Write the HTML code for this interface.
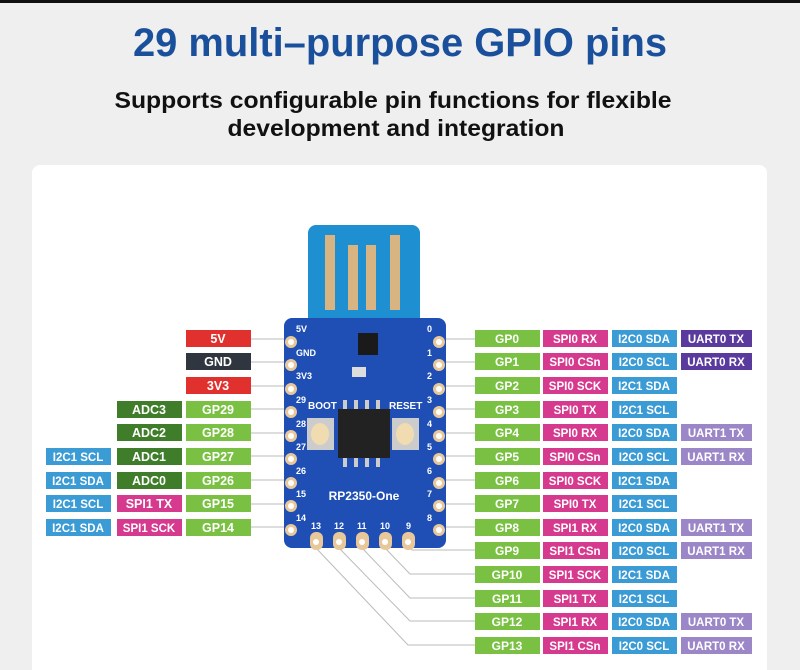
<!DOCTYPE html>
<html><head><meta charset="utf-8"><style>
html,body{margin:0;padding:0;width:800px;height:670px;overflow:hidden;background:#efefef;}
</style></head><body>
<svg width="800" height="670" viewBox="0 0 800 670" xmlns="http://www.w3.org/2000/svg" font-family="Liberation Sans, sans-serif">
<rect x="0" y="0" width="800" height="3" fill="#111"/>
<text x="400" y="56" text-anchor="middle" font-size="40" font-weight="bold" fill="#1a4f9c" textLength="534" lengthAdjust="spacingAndGlyphs">29 multi–purpose GPIO pins</text>
<text x="393" y="108" text-anchor="middle" font-size="23" font-weight="bold" fill="#111" textLength="557" lengthAdjust="spacingAndGlyphs">Supports configurable pin functions for flexible</text>
<text x="396" y="136" text-anchor="middle" font-size="23" font-weight="bold" fill="#111" textLength="337" lengthAdjust="spacingAndGlyphs">development and integration</text>
<rect x="32" y="165" width="735" height="520" rx="8" fill="#fff"/>

<g stroke="#bbb" stroke-width="1" fill="none">
<line x1="251" y1="339" x2="291" y2="339"/><line x1="251" y1="362" x2="291" y2="362"/><line x1="251" y1="386" x2="291" y2="386"/>
<line x1="251" y1="409" x2="291" y2="409"/><line x1="251" y1="433" x2="291" y2="433"/><line x1="251" y1="456" x2="291" y2="456"/>
<line x1="251" y1="480" x2="291" y2="480"/><line x1="251" y1="504" x2="291" y2="504"/><line x1="251" y1="527" x2="291" y2="527"/>
<line x1="438" y1="339" x2="475" y2="339"/><line x1="438" y1="362" x2="475" y2="362"/><line x1="438" y1="386" x2="475" y2="386"/>
<line x1="438" y1="409" x2="475" y2="409"/><line x1="438" y1="433" x2="475" y2="433"/><line x1="438" y1="456" x2="475" y2="456"/>
<line x1="438" y1="480" x2="475" y2="480"/><line x1="438" y1="504" x2="475" y2="504"/><line x1="438" y1="527" x2="475" y2="527"/>
<polyline points="408,545 412,550 475,550"/>
<polyline points="385,548 410,574 475,574"/>
<polyline points="362,548 410,598 475,598"/>
<polyline points="339,548 410,621 475,621"/>
<polyline points="316,548 408,645 475,645"/>
</g>

<rect x="308" y="225" width="112" height="100" rx="8" fill="#1e8fd0"/>
<g fill="#d9b483"><rect x="325" y="235" width="10" height="75"/><rect x="348" y="245" width="10" height="65"/><rect x="366" y="245" width="10" height="65"/><rect x="390" y="235" width="10" height="75"/></g>
<rect x="284" y="318" width="162" height="230" rx="8" fill="#1f4fb5"/>
<g fill="#e8c89a">
<circle cx="291" cy="342" r="6"/><circle cx="291" cy="365" r="6"/><circle cx="291" cy="389" r="6"/><circle cx="291" cy="412" r="6"/><circle cx="291" cy="436" r="6"/><circle cx="291" cy="459" r="6"/><circle cx="291" cy="483" r="6"/><circle cx="291" cy="506" r="6"/><circle cx="291" cy="530" r="6"/>
<circle cx="439" cy="342" r="6"/><circle cx="439" cy="365" r="6"/><circle cx="439" cy="389" r="6"/><circle cx="439" cy="412" r="6"/><circle cx="439" cy="436" r="6"/><circle cx="439" cy="459" r="6"/><circle cx="439" cy="483" r="6"/><circle cx="439" cy="506" r="6"/><circle cx="439" cy="530" r="6"/>
<rect x="310" y="532" width="13" height="18" rx="6"/><rect x="333" y="532" width="13" height="18" rx="6"/><rect x="356" y="532" width="13" height="18" rx="6"/><rect x="379" y="532" width="13" height="18" rx="6"/><rect x="402" y="532" width="13" height="18" rx="6"/>
</g>
<g fill="#fff"><circle cx="291" cy="342" r="3"/><circle cx="291" cy="365" r="3"/><circle cx="291" cy="389" r="3"/><circle cx="291" cy="412" r="3"/><circle cx="291" cy="436" r="3"/><circle cx="291" cy="459" r="3"/><circle cx="291" cy="483" r="3"/><circle cx="291" cy="506" r="3"/><circle cx="291" cy="530" r="3"/>
<circle cx="439" cy="342" r="3"/><circle cx="439" cy="365" r="3"/><circle cx="439" cy="389" r="3"/><circle cx="439" cy="412" r="3"/><circle cx="439" cy="436" r="3"/><circle cx="439" cy="459" r="3"/><circle cx="439" cy="483" r="3"/><circle cx="439" cy="506" r="3"/><circle cx="439" cy="530" r="3"/>
<circle cx="316" cy="542" r="3"/><circle cx="339" cy="542" r="3"/><circle cx="362" cy="542" r="3"/><circle cx="385" cy="542" r="3"/><circle cx="408" cy="542" r="3"/></g>
<rect x="358" y="333" width="20" height="22" fill="#1a1a1a"/>
<rect x="352" y="367" width="14" height="10" fill="#ddd"/>
<g fill="#ccc"><rect x="343" y="400" width="4" height="12"/><rect x="354" y="400" width="4" height="12"/><rect x="365" y="400" width="4" height="12"/><rect x="376" y="400" width="4" height="12"/>
<rect x="343" y="455" width="4" height="12"/><rect x="354" y="455" width="4" height="12"/><rect x="365" y="455" width="4" height="12"/><rect x="376" y="455" width="4" height="12"/></g>
<rect x="338" y="409" width="52" height="49" fill="#222"/>
<rect x="307" y="418" width="27" height="32" fill="#ccc"/><ellipse cx="320" cy="434" rx="9" ry="11" fill="#f0dcb0"/>
<rect x="392" y="418" width="27" height="32" fill="#ccc"/><ellipse cx="405" cy="434" rx="9" ry="11" fill="#f0dcb0"/>
<g fill="#fff" font-weight="bold" font-size="9">
<text x="296" y="332">5V</text><text x="296" y="356">GND</text><text x="296" y="379">3V3</text><text x="296" y="403">29</text><text x="296" y="427">28</text><text x="296" y="450">27</text><text x="296" y="474">26</text><text x="296" y="497">15</text><text x="296" y="521">14</text>
<text x="427" y="332">0</text><text x="427" y="356">1</text><text x="427" y="379">2</text><text x="427" y="403">3</text><text x="427" y="427">4</text><text x="427" y="450">5</text><text x="427" y="474">6</text><text x="427" y="497">7</text><text x="427" y="521">8</text>
<text x="311" y="529">13</text><text x="334" y="529">12</text><text x="357" y="529">11</text><text x="380" y="529">10</text><text x="406" y="529">9</text>
<text x="308" y="409" font-size="10">BOOT</text><text x="389" y="409" font-size="10">RESET</text>
<text x="364" y="500" font-size="12" text-anchor="middle">RP2350-One</text>
</g>

<g font-weight="bold" font-size="12.5" fill="#fff" text-anchor="middle">
<rect x="186" y="330" width="65" height="17" fill="#e0312f"/><text x="218" y="343">5V</text>
<rect x="186" y="353" width="65" height="17" fill="#2f3640"/><text x="218" y="366">GND</text>
<rect x="186" y="377" width="65" height="17" fill="#e0312f"/><text x="218" y="390">3V3</text>
<rect x="186" y="401" width="65" height="17" fill="#7ac143"/><text x="218" y="414">GP29</text>
<rect x="186" y="424" width="65" height="17" fill="#7ac143"/><text x="218" y="437">GP28</text>
<rect x="186" y="448" width="65" height="17" fill="#7ac143"/><text x="218" y="461">GP27</text>
<rect x="186" y="472" width="65" height="17" fill="#7ac143"/><text x="218" y="485">GP26</text>
<rect x="186" y="495" width="65" height="17" fill="#7ac143"/><text x="218" y="508">GP15</text>
<rect x="186" y="519" width="65" height="17" fill="#7ac143"/><text x="218" y="532">GP14</text>
<rect x="117" y="401" width="65" height="17" fill="#3f7d2a"/><text x="149" y="414">ADC3</text>
<rect x="117" y="424" width="65" height="17" fill="#3f7d2a"/><text x="149" y="437">ADC2</text>
<rect x="117" y="448" width="65" height="17" fill="#3f7d2a"/><text x="149" y="461">ADC1</text>
<rect x="117" y="472" width="65" height="17" fill="#3f7d2a"/><text x="149" y="485">ADC0</text>
<rect x="117" y="495" width="65" height="17" fill="#d63a8f"/><text x="149" y="508">SPI1 TX</text>
<rect x="117" y="519" width="65" height="17" fill="#d63a8f"/><text x="149" y="532" font-size="11.5">SPI1 SCK</text>
<rect x="46" y="448" width="65" height="17" fill="#3a9bd5"/><text x="78" y="461" font-size="11.5">I2C1 SCL</text>
<rect x="46" y="472" width="65" height="17" fill="#3a9bd5"/><text x="78" y="485" font-size="11.5">I2C1 SDA</text>
<rect x="46" y="495" width="65" height="17" fill="#3a9bd5"/><text x="78" y="508" font-size="11.5">I2C1 SCL</text>
<rect x="46" y="519" width="65" height="17" fill="#3a9bd5"/><text x="78" y="532" font-size="11.5">I2C1 SDA</text>
</g>
<g font-weight="bold" font-size="12" fill="#fff" text-anchor="middle">
<g fill="#7ac143">
<rect x="475" y="330" width="65" height="17"/><rect x="475" y="353" width="65" height="17"/><rect x="475" y="377" width="65" height="17"/><rect x="475" y="401" width="65" height="17"/><rect x="475" y="424" width="65" height="17"/><rect x="475" y="448" width="65" height="17"/><rect x="475" y="472" width="65" height="17"/><rect x="475" y="495" width="65" height="17"/><rect x="475" y="519" width="65" height="17"/><rect x="475" y="542" width="65" height="17"/><rect x="475" y="566" width="65" height="17"/><rect x="475" y="590" width="65" height="17"/><rect x="475" y="613" width="65" height="17"/><rect x="475" y="637" width="65" height="17"/></g>
<g fill="#d63a8f">
<rect x="543" y="330" width="65" height="17"/><rect x="543" y="353" width="65" height="17"/><rect x="543" y="377" width="65" height="17"/><rect x="543" y="401" width="65" height="17"/><rect x="543" y="424" width="65" height="17"/><rect x="543" y="448" width="65" height="17"/><rect x="543" y="472" width="65" height="17"/><rect x="543" y="495" width="65" height="17"/><rect x="543" y="519" width="65" height="17"/><rect x="543" y="542" width="65" height="17"/><rect x="543" y="566" width="65" height="17"/><rect x="543" y="590" width="65" height="17"/><rect x="543" y="613" width="65" height="17"/><rect x="543" y="637" width="65" height="17"/></g>
<g fill="#3a9bd5">
<rect x="612" y="330" width="65" height="17"/><rect x="612" y="353" width="65" height="17"/><rect x="612" y="377" width="65" height="17"/><rect x="612" y="401" width="65" height="17"/><rect x="612" y="424" width="65" height="17"/><rect x="612" y="448" width="65" height="17"/><rect x="612" y="472" width="65" height="17"/><rect x="612" y="495" width="65" height="17"/><rect x="612" y="519" width="65" height="17"/><rect x="612" y="542" width="65" height="17"/><rect x="612" y="566" width="65" height="17"/><rect x="612" y="590" width="65" height="17"/><rect x="612" y="613" width="65" height="17"/><rect x="612" y="637" width="65" height="17"/></g>
<rect x="681" y="330" width="71" height="17" fill="#5b3a9e"/><rect x="681" y="353" width="71" height="17" fill="#5b3a9e"/>
<g fill="#9b86c8"><rect x="681" y="424" width="71" height="17"/><rect x="681" y="448" width="71" height="17"/><rect x="681" y="519" width="71" height="17"/><rect x="681" y="542" width="71" height="17"/><rect x="681" y="613" width="71" height="17"/><rect x="681" y="637" width="71" height="17"/></g>
<text x="507" y="343">GP0</text><text x="507" y="366">GP1</text><text x="507" y="390">GP2</text><text x="507" y="414">GP3</text><text x="507" y="437">GP4</text><text x="507" y="461">GP5</text><text x="507" y="485">GP6</text><text x="507" y="508">GP7</text><text x="507" y="532">GP8</text><text x="507" y="555">GP9</text><text x="507" y="579">GP10</text><text x="507" y="603">GP11</text><text x="507" y="626">GP12</text><text x="507" y="650">GP13</text>
<g font-size="11.5">
<text x="575" y="343">SPI0 RX</text><text x="575" y="366">SPI0 CSn</text><text x="575" y="390">SPI0 SCK</text><text x="575" y="414">SPI0 TX</text><text x="575" y="437">SPI0 RX</text><text x="575" y="461">SPI0 CSn</text><text x="575" y="485">SPI0 SCK</text><text x="575" y="508">SPI0 TX</text><text x="575" y="532">SPI1 RX</text><text x="575" y="555">SPI1 CSn</text><text x="575" y="579">SPI1 SCK</text><text x="575" y="603">SPI1 TX</text><text x="575" y="626">SPI1 RX</text><text x="575" y="650">SPI1 CSn</text>
<text x="644" y="343">I2C0 SDA</text><text x="644" y="366">I2C0 SCL</text><text x="644" y="390">I2C1 SDA</text><text x="644" y="414">I2C1 SCL</text><text x="644" y="437">I2C0 SDA</text><text x="644" y="461">I2C0 SCL</text><text x="644" y="485">I2C1 SDA</text><text x="644" y="508">I2C1 SCL</text><text x="644" y="532">I2C0 SDA</text><text x="644" y="555">I2C0 SCL</text><text x="644" y="579">I2C1 SDA</text><text x="644" y="603">I2C1 SCL</text><text x="644" y="626">I2C0 SDA</text><text x="644" y="650">I2C0 SCL</text>
<text x="716" y="343">UART0 TX</text><text x="716" y="366">UART0 RX</text><text x="716" y="437">UART1 TX</text><text x="716" y="461">UART1 RX</text><text x="716" y="532">UART1 TX</text><text x="716" y="555">UART1 RX</text><text x="716" y="626">UART0 TX</text><text x="716" y="650">UART0 RX</text>
</g>
</g>
</svg>
</body></html>
